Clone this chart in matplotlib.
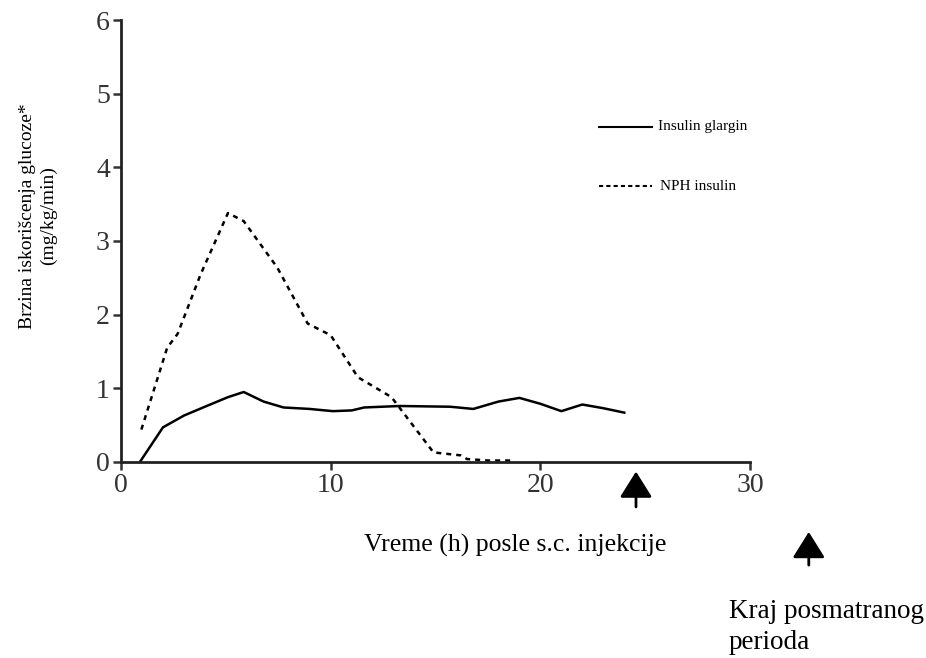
import matplotlib.pyplot as plt

plt.rcParams['font.family'] = ['Liberation Serif', 'DejaVu Serif']

# Insulin glargin (solid)
glargin_t = [0.9, 2.0, 3.0, 4.0, 5.1, 5.85, 6.8, 7.75, 9.0, 10.1, 11.0, 11.6,
             13.3, 15.7, 16.8, 18.0, 19.0, 20.0, 21.0, 22.0, 23.0, 24.0]
glargin_v = [0.0, 0.47, 0.63, 0.75, 0.88, 0.95, 0.82, 0.74, 0.72, 0.69, 0.70, 0.74,
             0.76, 0.75, 0.72, 0.82, 0.87, 0.79, 0.69, 0.78, 0.73, 0.67]

# NPH insulin (dashed)
nph_t = [0.97, 2.2, 2.7, 3.8, 5.1, 5.85, 7.45, 8.9, 10.0, 11.3, 12.9,
         14.9, 16.2, 16.5, 17.5, 18.6]
nph_v = [0.44, 1.55, 1.74, 2.55, 3.38, 3.27, 2.64, 1.88, 1.72, 1.15, 0.88,
         0.13, 0.09, 0.04, 0.02, 0.02]

x_ticks = [0, 10, 20, 30]
y_ticks = [0, 1, 2, 3, 4, 5, 6]

fig = plt.figure(figsize=(9.26, 6.58), dpi=100)
ax = fig.add_axes([0.1307, 0.2979, 0.6793, 0.6717])

ax.plot(glargin_t, glargin_v, color='black', lw=1.8, label='Insulin glargin')
ax.plot(nph_t, nph_v, color='black', lw=1.8, ls=(0, (2, 2)), label='NPH insulin')

ax.set_xlim(0, 30)
ax.set_ylim(0, 6)
ax.set_xticks(x_ticks)
ax.set_yticks(y_ticks)
ax.tick_params(labelsize=20, width=1.8, length=6, direction='out', colors='#333333',
               pad=2)
for s in ['top', 'right']:
    ax.spines[s].set_visible(False)
for s in ['left', 'bottom']:
    ax.spines[s].set_linewidth(2)
    ax.spines[s].set_color('#222222')

# legend drawn by hand to match the loose layout
ax.plot([22.8, 25.3], [4.55, 4.55], color='black', lw=1.5, clip_on=False)
ax.text(25.6, 4.55, 'Insulin glargin', fontsize=11, va='center')
ax.plot([22.8, 25.3], [3.74, 3.74], color='black', lw=1.5, ls=(0, (2, 1.5)), clip_on=False)
ax.text(25.7, 3.74, 'NPH insulin', fontsize=11, va='center')

fig.text(0.556, 0.171, 'Vreme (h) posle s.c. injekcije', fontsize=18.5,
         ha='center', va='center')
fig.text(0.787, 0.047, 'Kraj posmatranog\nperioda', fontsize=19.5,
         ha='left', va='center', linespacing=1.35)
fig.text(0.041, 0.672, 'Brzina iskorišcenja glucoze*\n(mg/kg/min)', fontsize=14,
         rotation=90, ha='center', va='center', linespacing=1.3)

arrow = dict(arrowstyle='-|>,head_width=1.0,head_length=1.6', lw=2,
             color='black', mutation_scale=10, shrinkA=0, shrinkB=0)
ax.annotate('', xy=(24.56, -0.13), xytext=(24.56, -0.61), arrowprops=arrow,
            annotation_clip=False)
ax.annotate('', xy=(32.8, -0.95), xytext=(32.8, -1.40), arrowprops=arrow,
            annotation_clip=False)

fig.savefig('out.png', dpi=100)
